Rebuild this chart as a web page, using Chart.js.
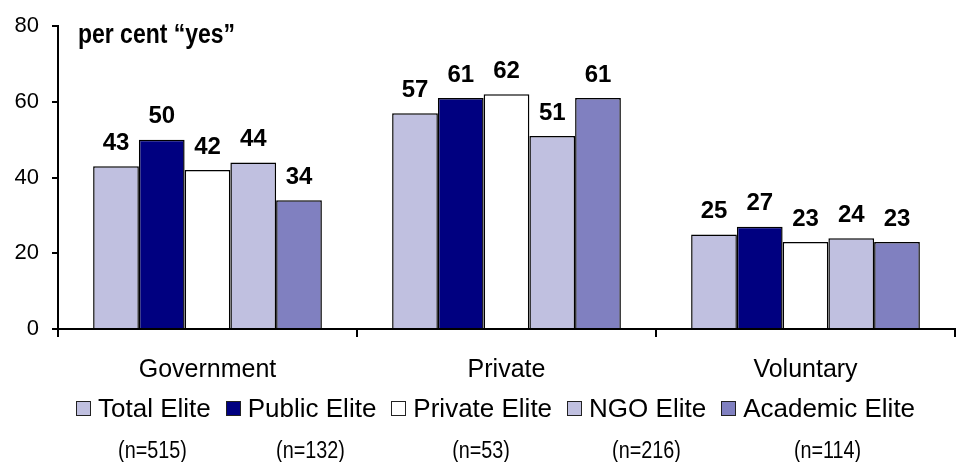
<!DOCTYPE html>
<html>
<head>
<meta charset="utf-8">
<script src="https://cdn.jsdelivr.net/npm/chart.js@4.4.1/dist/chart.umd.min.js"></script>
<style>
    html, body { margin: 0; padding: 0; background: #fff; }
    #wrap { position: relative; width: 958px; height: 462px; font-family: "Liberation Sans", Arial, sans-serif; color: #000; }
    #chart { position: absolute; left: 0; top: 0; }
    #unit { position: absolute; left: 78px; top: 17px; font-weight: bold; font-size: 28px; line-height: 34px; transform: scaleX(0.82); transform-origin: left top; white-space: nowrap; }
    #legend { position: absolute; left: 76px; top: 394px; display: flex; gap: 15px; }
    .item { display: flex; flex-direction: column; align-items: center; }
    .key { display: flex; align-items: center; font-size: 26px; line-height: 29px; white-space: nowrap; }
    .box { width: 13px; height: 13px; border: 1px solid #222; margin-right: 7px; }
    .n { font-size: 23px; line-height: 24px; margin-top: 15px; padding-left: 22px; transform: scaleX(0.86); white-space: nowrap; }
</style>
</head>
<body>
<div id="wrap">
    <canvas id="chart" width="958" height="462"></canvas>
    <div id="unit">per cent “yes”</div>
    <div id="legend"></div>
</div>
<script>
// Data
const categories = ['Government', 'Private', 'Voluntary'];
const seriesNames = ['Total Elite', 'Public Elite', 'Private Elite', 'NGO Elite', 'Academic Elite'];
const sampleSizes = ['(n=515)', '(n=132)', '(n=53)', '(n=216)', '(n=114)'];
const totalElite = [43, 57, 25];
const publicElite = [50, 61, 27];
const privateElite = [42, 62, 23];
const ngoElite = [44, 51, 24];
const academicElite = [34, 61, 23];
const yTicks = [0, 20, 40, 60, 80];

const colors = ['#C0C0E0', '#000080', '#FFFFFF', '#C0C0E0', '#8080C0'];
const seriesValues = [totalElite, publicElite, privateElite, ngoElite, academicElite];

const FONT = '"Liberation Sans", Arial, sans-serif';

// Value labels above the bars
const valueLabels = {
    id: 'valueLabels',
    afterDatasetsDraw(chart) {
        const ctx = chart.ctx;
        ctx.save();
        ctx.font = 'bold 24px ' + FONT;
        ctx.fillStyle = '#000';
        ctx.textAlign = 'center';
        ctx.textBaseline = 'middle';
        chart.data.datasets.forEach((ds, i) => {
            chart.getDatasetMeta(i).data.forEach((bar, j) => {
                ctx.fillText(ds.data[j], bar.x, bar.y - 23);
            });
        });
        ctx.restore();
    }
};

const chart = new Chart(document.getElementById('chart'), {
    type: 'bar',
    data: {
        labels: categories,
        datasets: seriesNames.map((name, i) => ({
            label: name,
            data: seriesValues[i],
            backgroundColor: colors[i],
            borderColor: '#000',
            borderWidth: 1.5,
            categoryPercentage: 0.765,
            barPercentage: 1
        }))
    },
    options: {
        responsive: false,
        animation: false,
        layout: { padding: { top: 22, right: 3, left: 0, bottom: 0 } },
        plugins: {
            legend: { display: false },
            tooltip: { enabled: false }
        },
        scales: {
            x: {
                afterFit: s => { s.height = 133; },
                grid: { drawOnChartArea: false, drawTicks: true, tickLength: 8, color: '#000', lineWidth: 2, offset: true },
                border: { color: '#000', width: 2 },
                ticks: { color: '#000', font: { size: 25, family: FONT }, padding: 18 }
            },
            y: {
                min: 0,
                max: 80,
                afterFit: s => { s.width = 58; },
                afterBuildTicks: s => { s.ticks = yTicks.map(v => ({ value: v })); },
                grid: { drawOnChartArea: false, drawTicks: true, tickLength: 6, color: '#000', lineWidth: 2 },
                border: { color: '#000', width: 2 },
                ticks: { color: '#000', font: { size: 22, family: FONT }, padding: 13 }
            }
        }
    },
    plugins: [valueLabels]
});

// Legend with sample sizes underneath
const legend = document.getElementById('legend');
seriesNames.forEach((name, i) => {
    const item = document.createElement('div');
    item.className = 'item';
    item.innerHTML = '<div class="key"><span class="box" style="background:' + colors[i] + '"></span>' + name + '</div>' +
        '<div class="n">' + sampleSizes[i] + '</div>';
    legend.appendChild(item);
});
</script>
</body>
</html>
